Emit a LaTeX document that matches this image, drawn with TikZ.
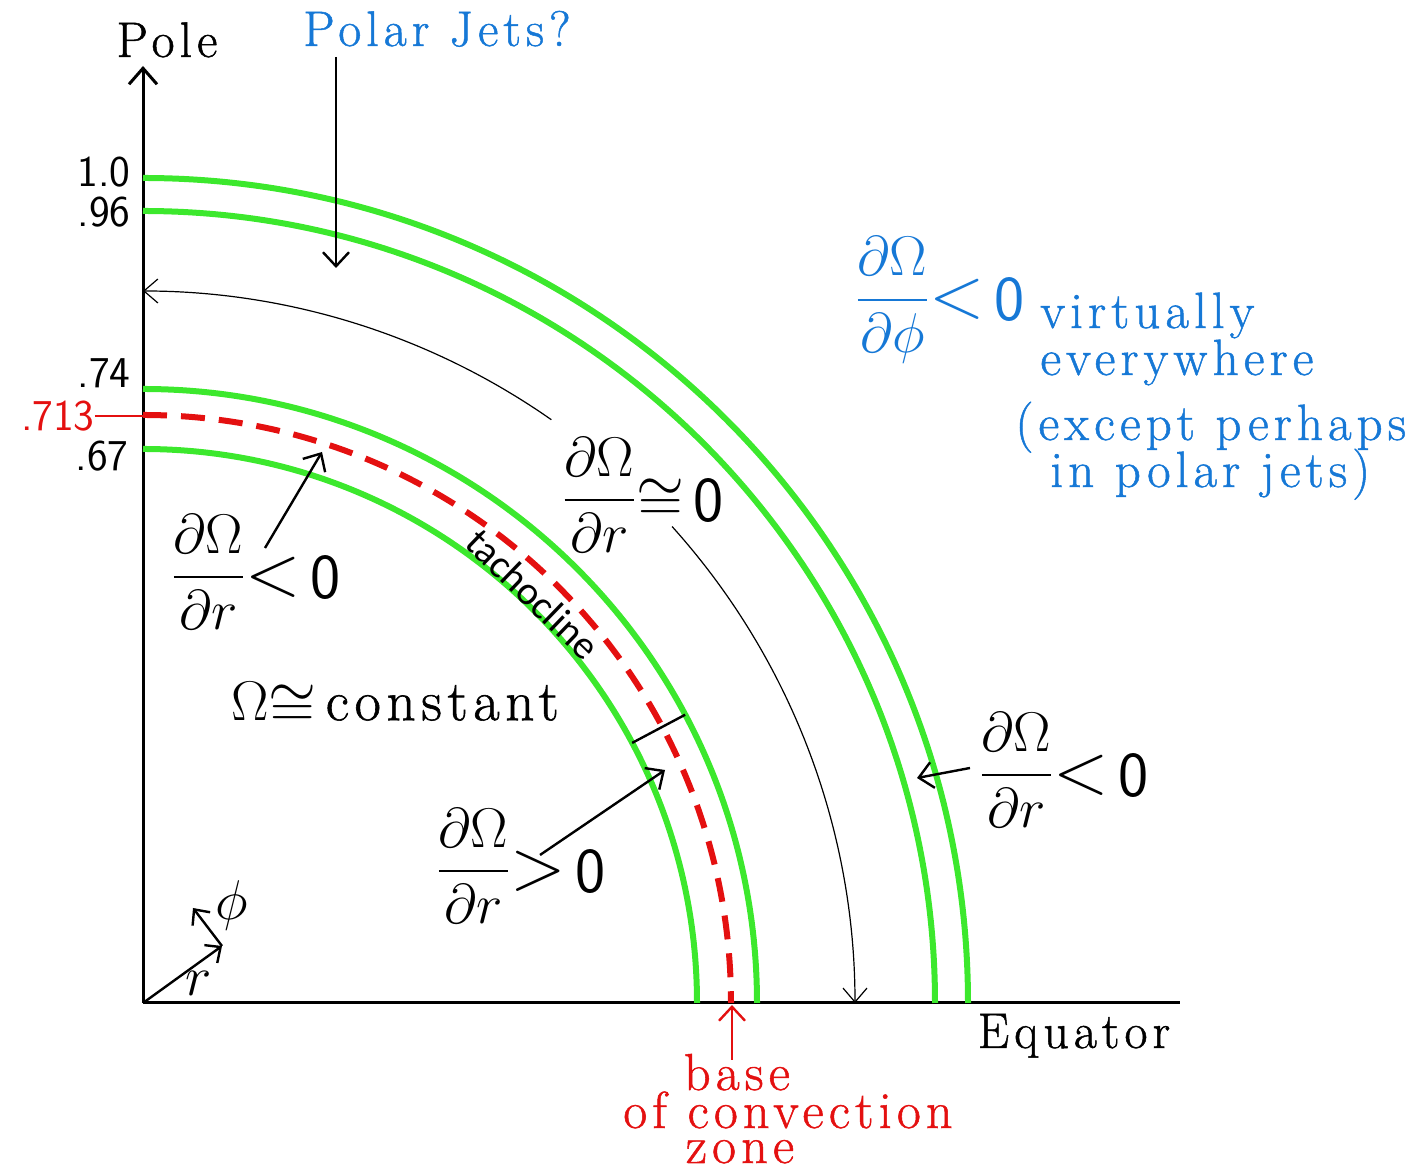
\RequirePackage{fix-cm}
\documentclass[tikz,border=0pt]{standalone}
\usepackage{amsmath}
\usepackage{graphicx}
\usepackage{fontspec}
\setmainfont{Latin Modern Roman}
\setsansfont{Latin Modern Sans}
\newfontfamily\hr[LetterSpace=10, FakeBold=1]{Latin Modern Roman}
\newfontfamily\tacho{Carlito}
\usetikzlibrary{arrows.meta}
\definecolor{sungreen}{RGB}{60,232,45}
\definecolor{cred}{RGB}{228,16,16}
\definecolor{cblue}{RGB}{22,120,214}
\newcommand\myrel[2][1.3]{\mathord{\vcenter{\hbox{\scalebox{#1}{$#2$}}}}}
\newcommand\myzero{\mathord{\vcenter{\hbox{\sffamily\fontsize{32}{32}\selectfont 0}}}}
\newcommand\myfrac[1]{\dfrac{\partial\Omega}{\partial #1}}
\tikzset{
  axisline/.style={line width=1.5pt},
  greenarc/.style={line width=3pt, draw=sungreen},
  redarc/.style={line width=3pt, draw=cred, dash pattern=on 12pt off 7pt},
  arr/.style={line width=1.2pt, -{Straight Barb[length=7pt,width=13pt]}},
  thinarr/.style={line width=0.6pt},
  lab/.style={inner sep=0pt},
  numlab/.style={inner sep=0pt, anchor=east, font=\sffamily\fontsize{22}{22}\selectfont},
  mathlab/.style={inner sep=0pt, font=\fontsize{28}{30}\selectfont},
  wordlab/.style={inner sep=0pt, anchor=base, font=\hr\fontsize{25}{27}\selectfont},
  bluelab/.style={inner sep=0pt, anchor=base west, text=cblue, font=\hr\fontsize{25.5}{27}\selectfont},
  redlab/.style={inner sep=0pt, anchor=base, text=cred, font=\hr\fontsize{26}{27}\selectfont},
}
\begin{document}
\begin{tikzpicture}[x=0.5pt,y=0.5pt]
\useasboundingbox (-143,-168) rectangle (1276,1003);
% axes
\coordinate (O) at (0,0);
\coordinate (poletop) at (0,937);
\coordinate (eqend) at (1037,0);
\draw[axisline, -{Straight Barb[length=8pt,width=14pt]}] (O) -- (poletop);
\draw[axisline] (O) -- (eqend);
\node[wordlab] (pole) at (24,946) {Pole};
\node[wordlab] (equator) at (931,-45) {Equator};
% shells
\draw[greenarc] (0,825) arc[start angle=90, end angle=0, radius=412.5pt];
\draw[greenarc] (0,792) arc[start angle=90, end angle=0, radius=396pt];
\draw[greenarc] (0,614) arc[start angle=90, end angle=0, radius=307pt];
\draw[greenarc] (0,554) arc[start angle=90, end angle=0, radius=277pt];
\draw[redarc] (0,588) arc[start angle=90, end angle=0, radius=294pt];
% radius labels
\node[numlab] (r10) at (-12,831) {1.0};
\node[numlab] (r96) at (-12,791) {.96};
\node[numlab] (r74) at (-12,630) {.74};
\node[numlab, text=cred] (r713) at (-48,587) {.713};
\node[numlab] (r67) at (-14,547) {.67};
\coordinate (r713ax) at (0,587);
\draw[cred, line width=1pt] (r713.east) -- (r713ax);
% polar jets
\node[wordlab, text=cblue] (jets) at (294,957) {Polar Jets?};
\coordinate (jetsstart) at (193,946);
\coordinate (jetstip) at (193,735);
\draw[arr] (jetsstart) -- (jetstip);
% thin arc with arrows
\coordinate (thinA) at (90:712);
\coordinate (thinB) at (42:712);
\draw[thinarr, {Straight Barb[length=7pt,width=12pt]}-] (thinA) arc[start angle=90, end angle=55, radius=356pt];
\draw[thinarr, -{Straight Barb[length=7pt,width=12pt]}] (thinB) arc[start angle=42, end angle=0, radius=356pt];
% math labels
\node[mathlab] (flat) at (500,508) {$\myfrac{r}\myrel[1.1]{\cong}\,\myzero$};
\node[mathlab] (neginner) at (113,431) {$\myfrac{r}\myrel{<}\,\myzero$};
\coordinate (neginnertip) at (179,551);
\draw[arr] (122,455) -- (neginnertip);
\node[mathlab] (posinner) at (378,137) {$\myfrac{r}\myrel{>}\,\myzero$};
\coordinate (posinnertip) at (522,233);
\draw[arr] (397,148) -- (posinnertip);
\node[mathlab] (negouter) at (921,233) {$\myfrac{r}\myrel{<}\,\myzero$};
\coordinate (negoutertip) at (774,225);
\draw[arr] (827,235) -- (negoutertip);
% tick across tachocline
\coordinate (tickA) at (28:554);
\coordinate (tickB) at (28:614);
\draw[line width=1.2pt] (tickA) -- (tickB);
% tachocline
\node[lab, rotate=-44, font=\tacho\fontsize{20}{20}\selectfont] (tacho) at (390,409) {tachocline};
% constant
\node[lab, font=\fontsize{28}{30}\selectfont] (const) at (252,298) {$\Omega\myrel[1.1]{\cong}$\,{\hr\fontsize{28.5}{30}\selectfont constant}};
% blue
\node[mathlab, text=cblue] (phifrac) at (797,703) {$\myfrac{\phi}\myrel{<}\,\myzero$};
\node[bluelab] (b1) at (897,675) {virtually};
\node[bluelab] (b2) at (897,628) {everywhere};
\node[bluelab] (b3) at (872,563) {(except perhaps};
\node[bluelab] (b4) at (907,516) {in polar jets)};
% base of convection zone
\coordinate (basestart) at (589,-57);
\coordinate (basetip) at (589,-2);
\draw[cred, line width=1.2pt, -{Straight Barb[length=7pt,width=13pt]}] (basestart) -- (basetip);
\node[redlab] (base1) at (594,-87) {base};
\node[redlab] (base2) at (645,-125) {of convection};
\node[redlab] (base3) at (597,-160) {zone};
% r, phi directions
\coordinate (rtip) at (79,57);
\coordinate (phitip) at (50,95);
\draw[line width=1.2pt, -{Straight Barb[length=6pt,width=11pt]}] (O) -- (rtip);
\draw[line width=1.2pt, -{Straight Barb[length=6pt,width=11pt]}] (rtip) -- (phitip);
\node[mathlab] (rlab) at (56,20) {$r$};
\node[mathlab] (philab) at (89,97) {$\phi$};
\end{tikzpicture}
\end{document}
